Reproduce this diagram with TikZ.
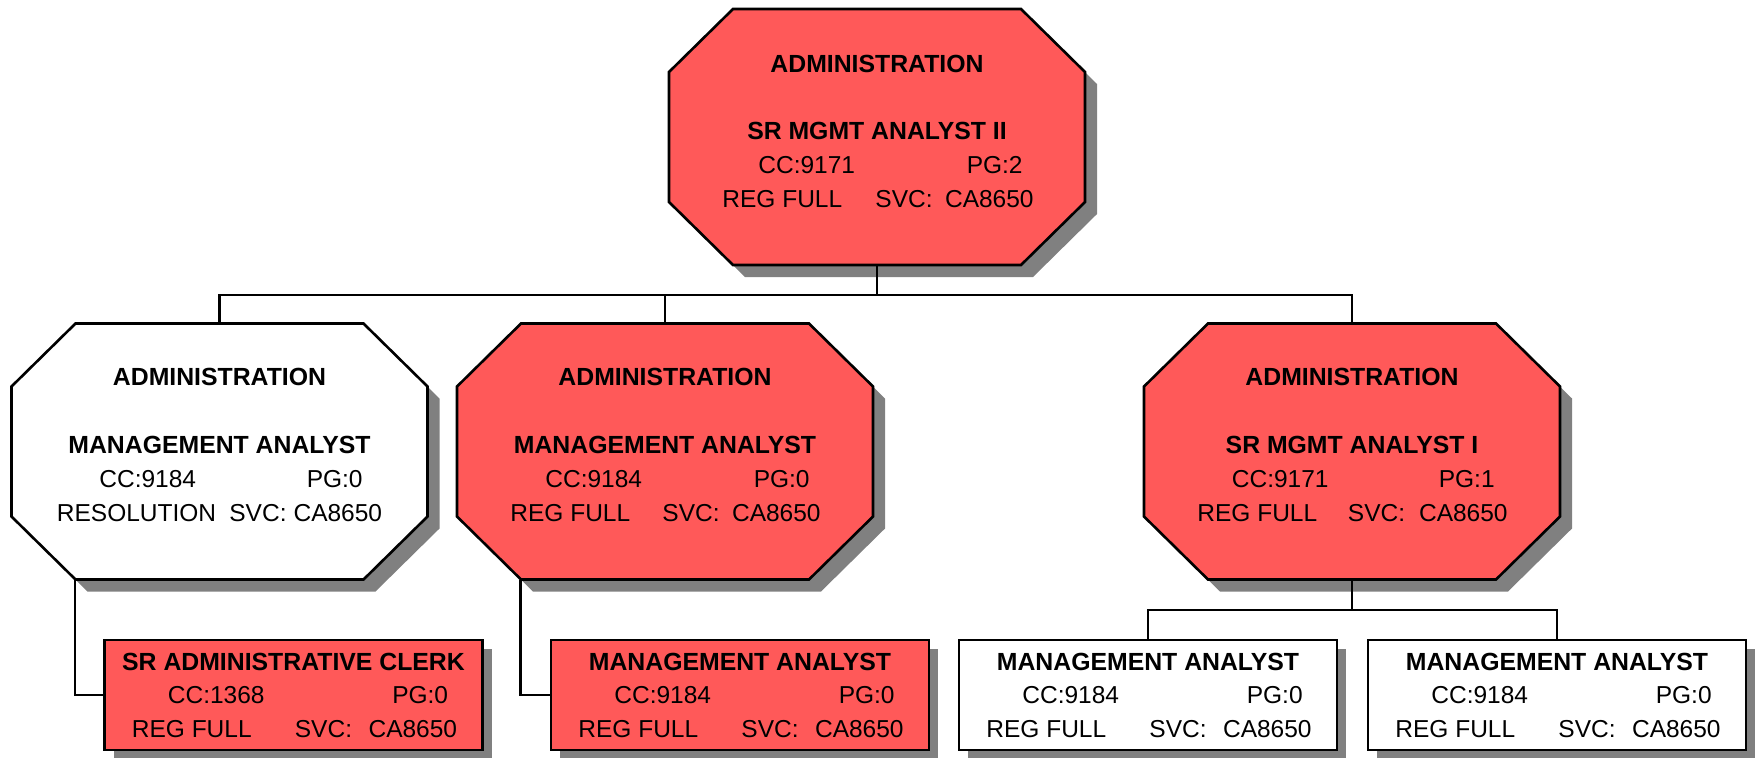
\documentclass[tikz,border=0pt]{standalone}
\usepackage{fontspec}
\setmainfont{Liberation Sans}
\usetikzlibrary{shadows}
\definecolor{orgred}{HTML}{FF5959}
\definecolor{shadowgray}{HTML}{808080}
\tikzset{
  octpath/.style={insert path={(-144,-128) -- (144,-128) -- (208,-65) -- (208,65) -- (144,128) -- (-144,128) -- (-208,65) -- (-208,-65) -- cycle}},
  octshadow/.style={fill=shadowgray, shift={(12,12)}, octpath},
  octline/.style={draw=black, line width=1.3pt, octpath},
  octanchor/.style={rectangle, minimum width=208pt, minimum height=128pt, inner sep=0pt},
  boxnode/.style={rectangle, draw=black, line width=1.3pt, minimum width=189pt, minimum height=55pt, inner sep=0pt,
    drop shadow={shadow xshift=4.5pt, shadow yshift=-4.5pt, opacity=1, fill=shadowgray, draw=none}},
  bold/.style={font=\fontsize{12.4}{14}\selectfont\bfseries, anchor=base, inner sep=0pt},
  lt/.style={font=\fontsize{12.25}{14}\selectfont, anchor=base west, inner sep=0pt},
  rt/.style={font=\fontsize{12.25}{14}\selectfont, anchor=base east, inner sep=0pt},
  conn/.style={draw=black, line width=1.2pt},
}
\begin{document}
\begin{tikzpicture}[x=0.5pt,y=-0.5pt]
\useasboundingbox (0,0) rectangle (1755,757);

% ---- top octagon
\begin{scope}[shift={(877,137)}]
  \path[octshadow];
  \path[octline, fill=orgred];
  \node[octanchor] (top) at (0,0) {};
  \node[bold] (top-d) at (0,-65) {ADMINISTRATION};
  \node[bold] (top-t) at (0,2) {SR MGMT ANALYST II};
  \node[lt] (top-cc) at (-119,36) {CC:9171};
  \node[rt] (top-pg) at (146,36) {PG:2};
  \node[lt] (top-st) at (-155,70) {REG FULL};
  \node[lt] (top-sv) at (-2,70) {SVC:};
  \node[rt] (top-ca) at (157,70) {CA8650};
\end{scope}

% ---- left octagon
\begin{scope}[shift={(219.5,451.5)}]
  \path[octshadow];
  \path[octline, fill=white];
  \node[octanchor] (oa) at (0,0) {};
  \node[bold] (oa-d) at (0,-66) {ADMINISTRATION};
  \node[bold] (oa-t) at (0,2) {MANAGEMENT ANALYST};
  \node[lt] (oa-cc) at (-120.5,36) {CC:9184};
  \node[rt] (oa-pg) at (143.5,36) {PG:0};
  \node[lt] (oa-st) at (-163,70) {RESOLUTION};
  \node[lt] (oa-sv) at (9.5,70) {SVC:};
  \node[rt] (oa-ca) at (163,70) {CA8650};
\end{scope}

% ---- middle octagon
\begin{scope}[shift={(665,451.5)}]
  \path[octshadow];
  \path[octline, fill=orgred];
  \node[octanchor] (ob) at (0,0) {};
  \node[bold] (ob-d) at (0,-66) {ADMINISTRATION};
  \node[bold] (ob-t) at (0,2) {MANAGEMENT ANALYST};
  \node[lt] (ob-cc) at (-120,36) {CC:9184};
  \node[rt] (ob-pg) at (145,36) {PG:0};
  \node[lt] (ob-st) at (-155,70) {REG FULL};
  \node[lt] (ob-sv) at (-3,70) {SVC:};
  \node[rt] (ob-ca) at (156,70) {CA8650};
\end{scope}

% ---- right octagon
\begin{scope}[shift={(1352,451.5)}]
  \path[octshadow];
  \path[octline, fill=orgred];
  \node[octanchor] (oc) at (0,0) {};
  \node[bold] (oc-d) at (0,-66) {ADMINISTRATION};
  \node[bold] (oc-t) at (0,2) {SR MGMT ANALYST I};
  \node[lt] (oc-cc) at (-120.5,36) {CC:9171};
  \node[rt] (oc-pg) at (143,36) {PG:1};
  \node[lt] (oc-st) at (-155,70) {REG FULL};
  \node[lt] (oc-sv) at (-4.5,70) {SVC:};
  \node[rt] (oc-ca) at (156,70) {CA8650};
\end{scope}

% ---- bottom boxes
\node[boxnode, fill=orgred] (ba) at (293.5,695) {};
\node[boxnode, fill=orgred] (bb) at (740,695) {};
\node[boxnode, fill=white] (bc) at (1148,695) {};
\node[boxnode, fill=white] (bd) at (1557,695) {};

\begin{scope}[shift={(293.5,695)}]
  \node[bold] (ba-t) at (0,-25) {SR ADMINISTRATIVE CLERK};
  \node[lt] (ba-cc) at (-126,8) {CC:1368};
  \node[rt] (ba-pg) at (155,8) {PG:0};
  \node[lt] (ba-st) at (-162,42) {REG FULL};
  \node[lt] (ba-sv) at (1,42) {SVC:};
  \node[rt] (ba-ca) at (164,42) {CA8650};
\end{scope}
\begin{scope}[shift={(740,695)}]
  \node[bold] (bb-t) at (0,-25) {MANAGEMENT ANALYST};
  \node[lt] (bb-cc) at (-126,8) {CC:9184};
  \node[rt] (bb-pg) at (155,8) {PG:0};
  \node[lt] (bb-st) at (-162,42) {REG FULL};
  \node[lt] (bb-sv) at (1,42) {SVC:};
  \node[rt] (bb-ca) at (164,42) {CA8650};
\end{scope}
\begin{scope}[shift={(1148,695)}]
  \node[bold] (bc-t) at (0,-25) {MANAGEMENT ANALYST};
  \node[lt] (bc-cc) at (-126,8) {CC:9184};
  \node[rt] (bc-pg) at (155,8) {PG:0};
  \node[lt] (bc-st) at (-162,42) {REG FULL};
  \node[lt] (bc-sv) at (1,42) {SVC:};
  \node[rt] (bc-ca) at (164,42) {CA8650};
\end{scope}
\begin{scope}[shift={(1557,695)}]
  \node[bold] (bd-t) at (0,-25) {MANAGEMENT ANALYST};
  \node[lt] (bd-cc) at (-126,8) {CC:9184};
  \node[rt] (bd-pg) at (155,8) {PG:0};
  \node[lt] (bd-st) at (-162,42) {REG FULL};
  \node[lt] (bd-sv) at (1,42) {SVC:};
  \node[rt] (bd-ca) at (164,42) {CA8650};
\end{scope}

% ---- connectors
\coordinate (bus1) at (877,295);
\draw[conn] (top.south) -- (bus1);
\draw[conn] (bus1) -| (oa.north);
\draw[conn] (bus1) -| (ob.north);
\draw[conn] (bus1) -| (oc.north);

\coordinate (oa-corner) at ([xshift=32pt]oa.south west);
\coordinate (ob-corner) at ([xshift=32pt]ob.south west);
\draw[conn] (oa-corner) |- (ba.west);
\draw[conn] (ob-corner) |- (bb.west);

\coordinate (bus2) at (1352,610);
\draw[conn] (oc.south) -- (bus2);
\draw[conn] (bus2) -| (bc.north);
\draw[conn] (bus2) -| (bd.north);
\end{tikzpicture}
\end{document}
